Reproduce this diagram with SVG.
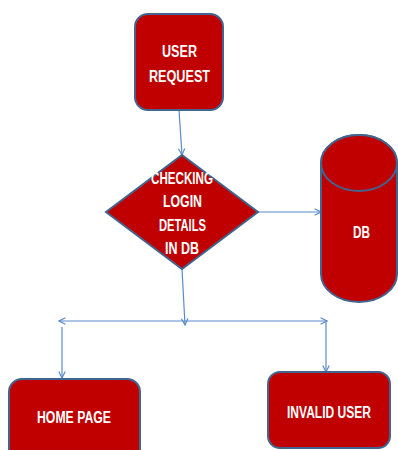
<svg xmlns="http://www.w3.org/2000/svg" width="398" height="450" viewBox="0 0 398 450">
<defs>
<style>
.node{fill:#C00000;stroke:#41658F;stroke-width:2}
.lbl{font-family:"Liberation Sans",Arial,sans-serif;font-weight:bold;font-size:16px;fill:#fff;text-anchor:middle}
.conn{stroke:#5A8ACB;stroke-width:1.2;fill:none}
</style>
<marker id="arr" viewBox="0 0 10 10" refX="9" refY="5" markerWidth="8" markerHeight="8" markerUnits="userSpaceOnUse" orient="auto-start-reverse">
<path d="M1,1 L9,5 L1,9" fill="none" stroke="#5A8ACB" stroke-width="1.5"/>
</marker>
</defs>
<rect width="398" height="450" fill="#fff"/>
<g id="connectors">
<path class="conn" d="M179,110 L182,155" marker-end="url(#arr)"/>
<path class="conn" d="M258,212 L321,212" marker-end="url(#arr)"/>
<path class="conn" d="M182,269 L185,325" marker-end="url(#arr)"/>
<path class="conn" d="M59,321 L327,321" marker-start="url(#arr)" marker-end="url(#arr)"/>
<path class="conn" d="M62,327 L62,378" marker-end="url(#arr)"/>
<path class="conn" d="M326,322 L326,372" marker-end="url(#arr)"/>
</g>
<g id="user-request">
<rect class="node" x="135" y="14" width="88" height="96" rx="13"/>
<text class="lbl" x="179.5" y="57" textLength="35" lengthAdjust="spacingAndGlyphs">USER</text>
<text class="lbl" x="179.5" y="82" textLength="61" lengthAdjust="spacingAndGlyphs">REQUEST</text>
</g>
<g id="checking">
<polygon class="node" points="182,155 258,212 182,269 106,212"/>
<text class="lbl" x="182" y="184" textLength="62" lengthAdjust="spacingAndGlyphs">CHECKING</text>
<text class="lbl" x="182.5" y="207" textLength="39" lengthAdjust="spacingAndGlyphs">LOGIN</text>
<text class="lbl" x="182.5" y="231" textLength="47" lengthAdjust="spacingAndGlyphs">DETAILS</text>
<text class="lbl" x="182" y="254" textLength="34" lengthAdjust="spacingAndGlyphs">IN DB</text>
</g>
<g id="db">
<path class="node" d="M321,163 L321,274 A38,28 0 0 0 397,274 L397,163 A38,28 0 0 0 321,163 Z"/>
<ellipse class="node" cx="359" cy="163" rx="38" ry="28"/>
<text class="lbl" x="361.5" y="238" textLength="17" lengthAdjust="spacingAndGlyphs">DB</text>
</g>
<g id="home-page">
<rect class="node" x="9" y="379" width="131" height="90" rx="13"/>
<text class="lbl" x="74" y="423" textLength="74" lengthAdjust="spacingAndGlyphs">HOME PAGE</text>
</g>
<g id="invalid-user">
<rect class="node" x="268" y="372" width="122" height="76" rx="12"/>
<text class="lbl" x="329" y="418" textLength="84" lengthAdjust="spacingAndGlyphs">INVALID USER</text>
</g>
</svg>
